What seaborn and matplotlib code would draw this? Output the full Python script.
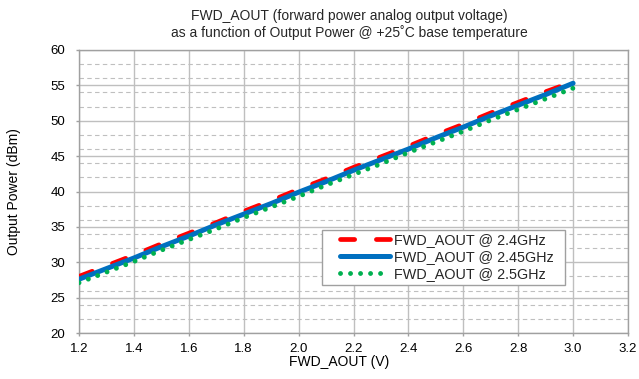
import pandas as pd
import seaborn as sns
import matplotlib
matplotlib.use("Agg")
import matplotlib.pyplot as plt
from matplotlib.ticker import MultipleLocator, FormatStrFormatter
from matplotlib.patches import Rectangle

# FWD_AOUT voltage (V)
fwd_aout = [1.2, 1.3, 1.4, 1.5, 1.6, 1.7, 1.8, 1.9, 2.0, 2.1,
            2.2, 2.3, 2.4, 2.5, 2.6, 2.7, 2.8, 2.9, 3.0]

# Output power (dBm) per frequency
pout_2g40 = [28.0, 29.5, 31.0, 32.6, 34.1, 35.6, 37.2, 38.7, 40.3, 41.8,
             43.4, 44.9, 46.4, 48.0, 49.5, 51.1, 52.6, 54.1, 55.5]
pout_2g45 = [27.6, 29.1, 30.6, 32.2, 33.7, 35.3, 36.8, 38.3, 39.9, 41.4,
             43.0, 44.5, 46.0, 47.6, 49.1, 50.7, 52.2, 53.7, 55.3]
pout_2g50 = [27.1, 28.6, 30.1, 31.7, 33.2, 34.7, 36.3, 37.8, 39.3, 40.9,
             42.4, 43.9, 45.5, 47.0, 48.5, 50.1, 51.6, 53.1, 54.6]

labels = ["FWD_AOUT @ 2.4GHz", "FWD_AOUT @ 2.45GHz", "FWD_AOUT @ 2.5GHz"]

sns.set_theme(style="white")
plt.rcParams["font.family"] = ["Liberation Sans", "DejaVu Sans"]

fig = plt.figure(figsize=(6.39, 3.79), dpi=100)
ax = fig.add_axes([79 / 639, 1 - 333 / 379, 549 / 639, 283 / 379])

grid_c = "#bfbfbf"
edge_c = "#a0a0a0"

df_r = pd.DataFrame({"v": fwd_aout, "p": pout_2g40})
df_b = pd.DataFrame({"v": fwd_aout, "p": pout_2g45})
df_g = pd.DataFrame({"v": fwd_aout, "p": pout_2g50})

sns.lineplot(data=df_r, x="v", y="p", ax=ax, color="#ff0000", lw=3.4,
             label=labels[0], zorder=3,
             linestyle=(0, (3.0, 4.6)), dash_capstyle="round")
sns.lineplot(data=df_b, x="v", y="p", ax=ax, color="#0070c0", lw=3.6,
             label=labels[1], zorder=4, solid_capstyle="round")
sns.lineplot(data=df_g, x="v", y="p", ax=ax, color="#00b050", lw=3.5,
             label=labels[2], zorder=5,
             linestyle=(0, (0.01, 2.05)), dash_capstyle="round")

ax.set_xlim(1.2, 3.2)
ax.set_ylim(20, 60)
ax.xaxis.set_major_locator(MultipleLocator(0.2))
ax.yaxis.set_major_locator(MultipleLocator(5))
ax.yaxis.set_minor_locator(MultipleLocator(2))
ax.xaxis.set_major_formatter(FormatStrFormatter("%.1f"))

ax.grid(which="major", axis="both", color=grid_c, lw=1.0, ls="-", zorder=0)
ax.grid(which="minor", axis="y", color=grid_c, lw=0.8, ls=(0, (4, 3)), zorder=0)
ax.set_axisbelow(True)

for s in ax.spines.values():
    s.set_color(edge_c)
    s.set_linewidth(1.0)

ax.tick_params(axis="both", which="major", direction="out", length=2.2,
               color=edge_c, width=1, labelsize=9.5, labelcolor="#000000",
               left=True, bottom=True)
ax.tick_params(axis="x", which="major", pad=5)
ax.tick_params(axis="y", which="major", pad=7.5)
ax.tick_params(axis="both", which="minor", length=0)

ax.set_xlabel("FWD_AOUT (V)", fontsize=10, color="#000000")
ax.set_ylabel("Output Power (dBm)", fontsize=10, color="#000000")
ax.xaxis.set_label_coords(0.474, -0.078)
ax.yaxis.set_label_coords(-0.106, 0.5)

fig.text(349 / 639, 1 - 16 / 379,
         "FWD_AOUT (forward power analog output voltage)",
         ha="center", va="center", fontsize=10)
fig.text(349 / 639, 1 - 33 / 379,
         "as a function of Output Power @ +25˚C base temperature",
         ha="center", va="center", fontsize=10)

# legend box with wide side margins
ax.add_patch(Rectangle((0.4434, 0.170), 0.4416, 0.194, transform=ax.transAxes,
                       facecolor="white", edgecolor=edge_c, lw=1.0, zorder=9))
leg = ax.legend(loc="center left", bbox_to_anchor=(0.4763, 0.2686),
                fontsize=10.4, frameon=False, handlelength=3.45,
                handletextpad=0.27, borderpad=0, labelspacing=0.2,
                borderaxespad=0)
leg.set_zorder(10)

fig.savefig("out.png", dpi=100)
